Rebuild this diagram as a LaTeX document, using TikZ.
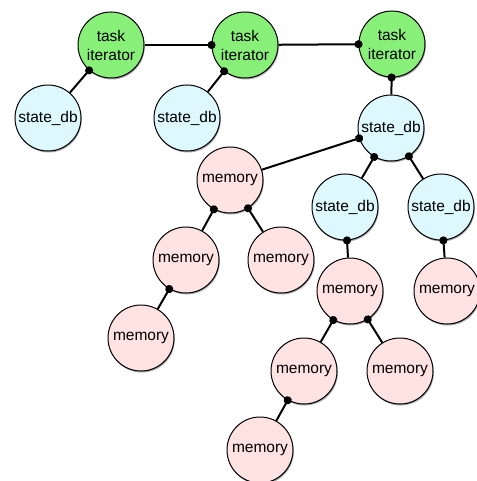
\documentclass[tikz,border=0pt]{standalone}
\usepackage{fontspec}
\setmainfont{Liberation Sans}
\usetikzlibrary{arrows.meta,shadows}
\definecolor{tgreen}{HTML}{88F078}
\definecolor{sblue}{HTML}{DDF8FF}
\definecolor{mpink}{HTML}{FFE2E2}
\tikzset{
  bubble/.style={circle, draw=black, line width=1pt, minimum size=66pt, inner sep=0pt,
    align=center, font=\fontsize{15.5}{19}\selectfont,
    drop shadow={shadow xshift=0.8pt, shadow yshift=-1.5pt, opacity=0.35, fill=black}},
  taskn/.style={bubble, fill=tgreen},
  staten/.style={bubble, fill=sblue},
  memn/.style={bubble, fill=mpink},
  link/.style={line width=2pt, {Circle[length=8pt]}-, shorten <=-4pt},
}
\begin{document}
\begin{tikzpicture}[x=1pt,y=-1pt]
\useasboundingbox (0,0) rectangle (476,481);
\node[taskn] (t1) at (111,45) {task\\iterator};
\node[taskn] (t2) at (245,45) {task\\iterator};
\node[taskn] (t3) at (392,44) {task\\iterator};
\node[staten] (s1) at (48,118) {state\_db};
\node[staten] (s2) at (187,118) {state\_db};
\node[staten] (s3) at (391,128) {state\_db};
\node[memn] (A) at (230,180) {memory};
\node[staten] (s4) at (345,207) {state\_db};
\node[staten] (s5) at (441,207) {state\_db};
\node[memn] (B) at (186,260) {memory};
\node[memn] (C) at (281,260) {memory};
\node[memn] (D) at (141,338) {memory};
\node[memn] (E) at (350,291) {memory};
\node[memn] (F) at (447,291) {memory};
\node[memn] (G) at (304,371) {memory};
\node[memn] (H) at (400,371) {memory};
\node[memn] (I) at (260,450) {memory};
\draw[link] (t2) -- (t1);
\draw[link] (t3) -- (t2);
\draw[link] (t1) -- (s1);
\draw[link] (t2) -- (s2);
\draw[link] (t3) -- (s3);
\draw[link] (s3) -- (A);
\draw[link] (s3) -- (s4);
\draw[link] (s3) -- (s5);
\draw[link] (A) -- (B);
\draw[link] (A) -- (C);
\draw[link] (B) -- (D);
\draw[link] (s4) -- (E);
\draw[link] (s5) -- (F);
\draw[link] (E) -- (G);
\draw[link] (E) -- (H);
\draw[link] (G) -- (I);
\end{tikzpicture}
\end{document}
